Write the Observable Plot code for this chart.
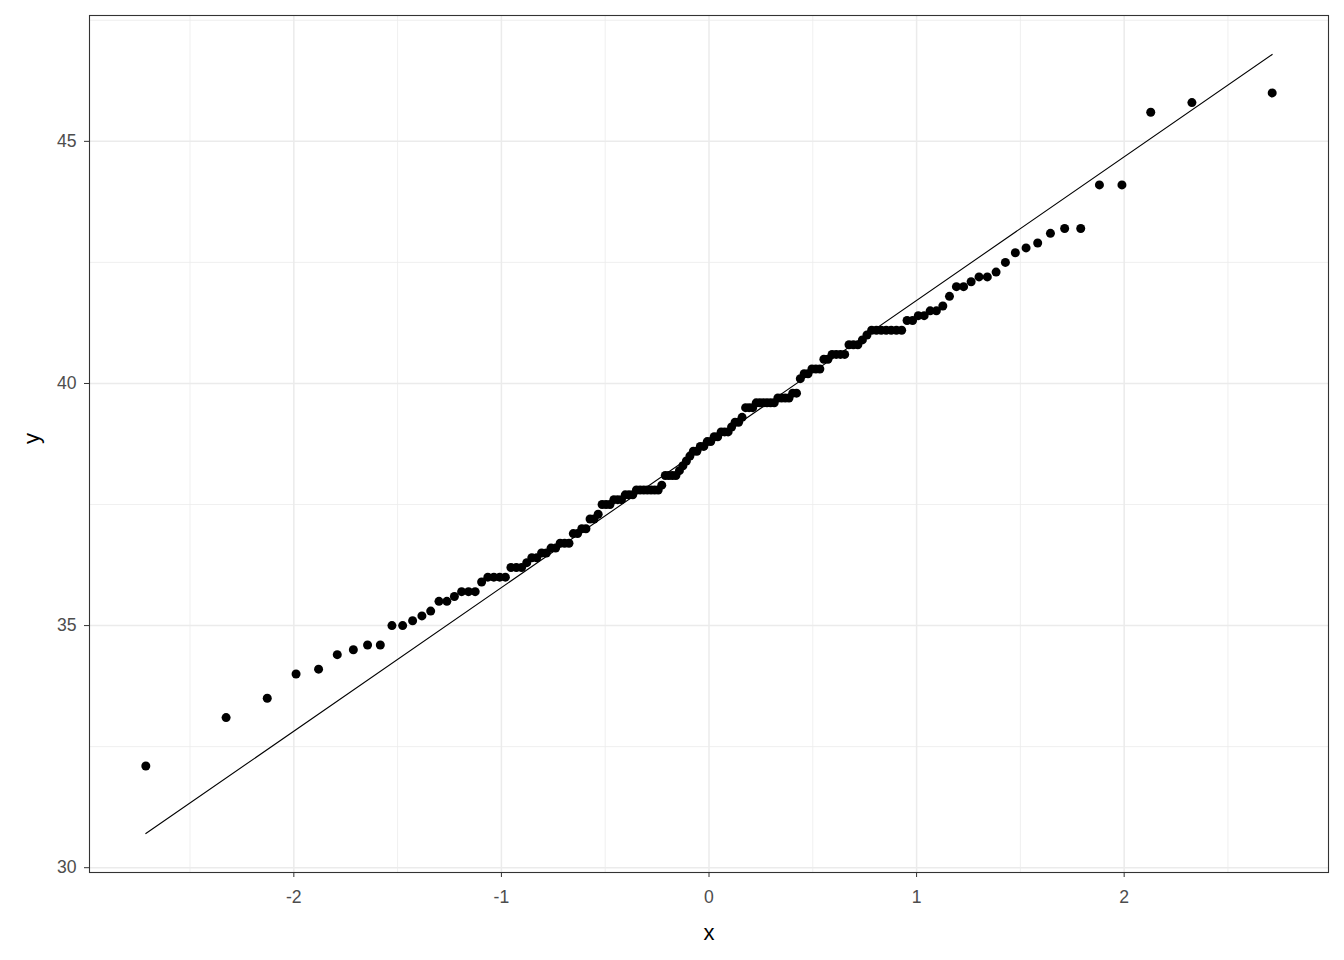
<!DOCTYPE html>
<html>
<head>
<meta charset="utf-8">
<script src="https://cdn.jsdelivr.net/npm/d3@7"></script>
<script src="https://cdn.jsdelivr.net/npm/@observablehq/plot@0.6"></script>
<style>
  html, body { margin: 0; padding: 0; background: #ffffff; }
  #chart { width: 1344px; height: 960px; }
</style>
</head>
<body>
<div id="chart"></div>
<script>
// Sorted sample values, n = 150
const sampleValues = [
  32.1, 33.1, 33.5, 34.0, 34.1, 34.4, 34.5, 34.6, 34.6, 35.0, 35.0, 35.1, 35.2, 35.3,
  35.5, 35.5, 35.6, 35.7, 35.7, 35.7, 35.9, 36.0, 36.0, 36.0, 36.0, 36.2, 36.2, 36.2, 36.3, 36.4,
  36.4, 36.5, 36.5, 36.6, 36.6, 36.7, 36.7, 36.7, 36.9, 36.9, 37.0, 37.0, 37.2, 37.2, 37.3,
  37.5, 37.5, 37.5, 37.6, 37.6, 37.6, 37.7, 37.7, 37.7, 37.8, 37.8, 37.8, 37.8, 37.8, 37.8, 37.8, 37.9,
  38.1, 38.1, 38.1, 38.1, 38.2, 38.3, 38.4, 38.5, 38.6, 38.6, 38.7, 38.7, 38.8, 38.8, 38.9, 38.9,
  39.0, 39.0, 39.0, 39.1, 39.2, 39.2, 39.3, 39.5, 39.5, 39.5, 39.6, 39.6, 39.6, 39.6, 39.6, 39.6, 39.7, 39.7, 39.7, 39.7, 39.8, 39.8,
  40.1, 40.2, 40.2, 40.3, 40.3, 40.3, 40.5, 40.5, 40.6, 40.6, 40.6, 40.6, 40.8, 40.8, 40.8, 40.9, 41.0,
  41.1, 41.1, 41.1, 41.1, 41.1, 41.1, 41.1,
  41.3, 41.3, 41.4, 41.4, 41.5, 41.5, 41.6, 41.8,
  42.0, 42.0, 42.1, 42.2, 42.2, 42.3, 42.5, 42.7, 42.8, 42.9, 43.1, 43.2, 43.2, 44.1, 44.1, 45.6, 45.8, 46.0
];

const xBreaks = [-2, -1, 0, 1, 2];
const xMinorBreaks = [-2.5, -1.5, -0.5, 0.5, 1.5, 2.5];
const yBreaks = [30, 35, 40, 45];
const yMinorBreaks = [32.5, 37.5, 42.5, 47.5];
const xTitle = "x";
const yTitle = "y";

// Normal quantile function (Acklam) used by the QQ statistic
function qnorm(p) {
  const a = [-3.969683028665376e+01, 2.209460984245205e+02, -2.759285104469687e+02, 1.383577518672690e+02, -3.066479806614716e+01, 2.506628277459239e+00];
  const b = [-5.447609879822406e+01, 1.615858368580409e+02, -1.556989798598866e+02, 6.680131188771972e+01, -1.328068155288572e+01];
  const c = [-7.784894002430293e-03, -3.223964580411365e-01, -2.400758277161838e+00, -2.549671348979899e+00, 4.374664141464968e+00, 2.938163982698783e+00];
  const d = [7.784695709041462e-03, 3.224671290700398e-01, 2.445134137624477e+00, 3.754408661907416e+00];
  const plow = 0.02425, phigh = 1 - plow;
  let q, r;
  if (p < plow) {
    q = Math.sqrt(-2 * Math.log(p));
    return (((((c[0]*q+c[1])*q+c[2])*q+c[3])*q+c[4])*q+c[5]) / ((((d[0]*q+d[1])*q+d[2])*q+d[3])*q+1);
  } else if (p <= phigh) {
    q = p - 0.5; r = q * q;
    return (((((a[0]*r+a[1])*r+a[2])*r+a[3])*r+a[4])*r+a[5])*q / (((((b[0]*r+b[1])*r+b[2])*r+b[3])*r+b[4])*r+1);
  } else {
    q = Math.sqrt(-2 * Math.log(1 - p));
    return -(((((c[0]*q+c[1])*q+c[2])*q+c[3])*q+c[4])*q+c[5]) / ((((d[0]*q+d[1])*q+d[2])*q+d[3])*q+1);
  }
}

// stat_qq: theoretical quantiles with ppoints
const sorted = sampleValues.slice().sort((u, v) => u - v);
const n = sorted.length;
const qqPoints = sorted.map((v, i) => ({ x: qnorm((i + 1 - 0.5) / n), y: v }));

// stat_qq_line: through the quartiles
const q25 = d3.quantileSorted(sorted, 0.25), q75 = d3.quantileSorted(sorted, 0.75);
const t25 = qnorm(0.25), t75 = qnorm(0.75);
const slope = (q75 - q25) / (t75 - t25);
const intercept = q25 - slope * t25;
const xExt = d3.extent(qqPoints, d => d.x);
const qqLine = xExt.map(x => ({ x, y: intercept + slope * x }));

// ggplot-like 5% expansion
const expand = ([lo, hi]) => { const p = (hi - lo) * 0.05; return [lo - p, hi + p]; };
const xDomain = expand(xExt);
const yDomain = expand(d3.extent([...qqPoints.map(d => d.y), ...qqLine.map(d => d.y)]));

const fmt = d => (d < 0 ? "-" + Math.abs(d) : String(d));

const chart = Plot.plot({
  width: 1344,
  height: 960,
  marginLeft: 89,
  marginRight: 16,
  marginTop: 15,
  marginBottom: 88,
  x: { domain: xDomain },
  y: { domain: yDomain },
  style: { fontFamily: "'Liberation Sans', Arial, sans-serif", fontSize: "17.6px", background: "#ffffff" },
  marks: [
    Plot.ruleX(xMinorBreaks, { stroke: "#EBEBEB", strokeWidth: 0.8 }),
    Plot.ruleY(yMinorBreaks, { stroke: "#EBEBEB", strokeWidth: 0.8 }),
    Plot.ruleX(xBreaks, { stroke: "#EBEBEB", strokeWidth: 1.5 }),
    Plot.ruleY(yBreaks, { stroke: "#EBEBEB", strokeWidth: 1.5 }),
    Plot.line(qqLine, { x: "x", y: "y", stroke: "#000000", strokeWidth: 1.1 }),
    Plot.dot(qqPoints, { x: "x", y: "y", r: 4.5, fill: "#000000", stroke: "none" }),
    Plot.frame({ stroke: "#333333", strokeWidth: 1.1 }),
    Plot.axisX({ ticks: xBreaks, tickSize: 5, tickPadding: 13, tickFormat: fmt, label: null, color: "#4D4D4D", stroke: "#333333" }),
    Plot.axisY({ ticks: yBreaks, tickSize: 5, tickPadding: 8, tickFormat: fmt, label: null, color: "#4D4D4D", stroke: "#333333" }),
    Plot.text([xTitle], { frameAnchor: "bottom", text: d => d, dy: 60, fontSize: 22, fill: "#000000", lineAnchor: "middle" }),
    Plot.text([yTitle], { frameAnchor: "left", text: d => d, dx: -58, rotate: -90, fontSize: 22, fill: "#000000", lineAnchor: "middle" })
  ]
});
document.getElementById("chart").appendChild(chart);
</script>
</body>
</html>
